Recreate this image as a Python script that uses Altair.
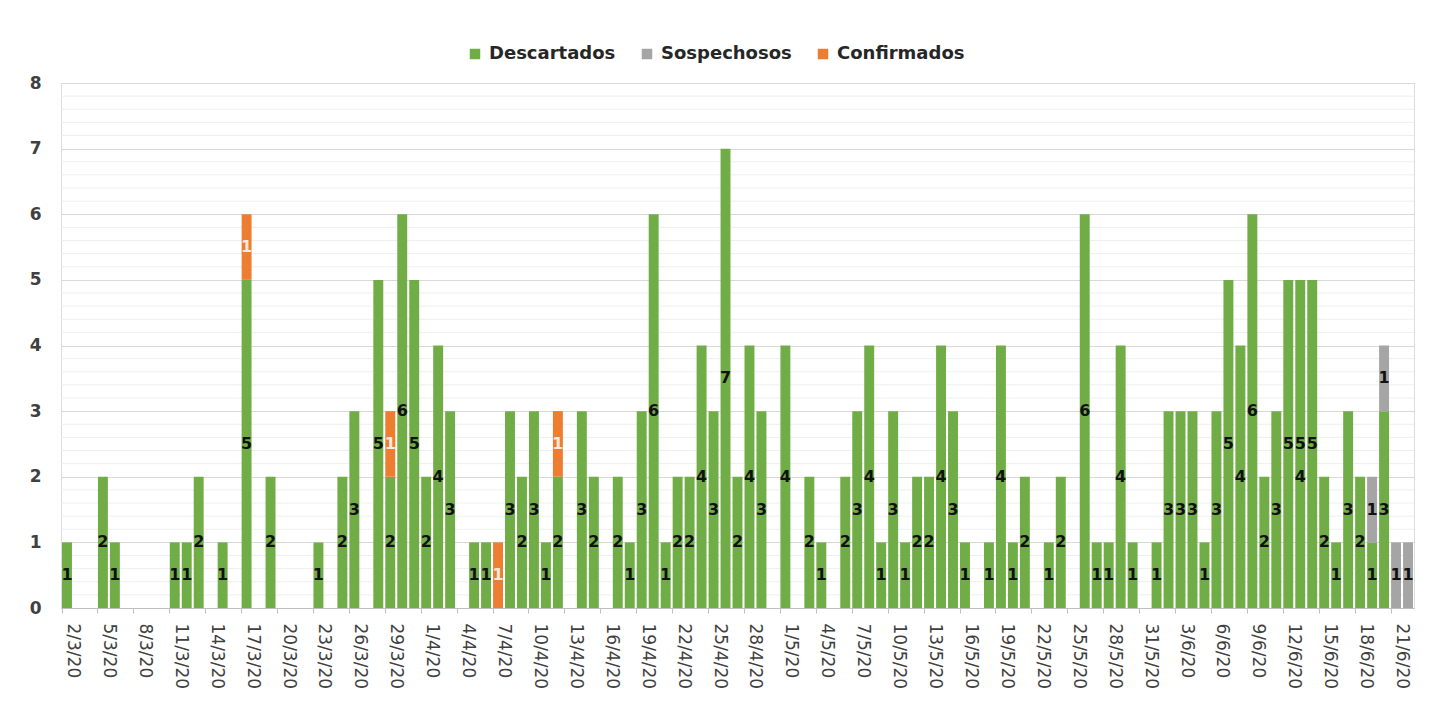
import altair as alt
import pandas as pd

# ---------------- data ----------------
inicio = "2020-03-02"
n_dias = 113
fechas = [f"{d.day}/{d.month}/20" for d in pd.date_range(inicio, periods=n_dias)]

descartados = [
    1, 0, 0, 2, 1, 0, 0, 0, 0, 1,
    1, 2, 0, 1, 0, 5, 0, 2, 0, 0,
    0, 1, 0, 2, 3, 0, 5, 2, 6, 5,
    2, 4, 3, 0, 1, 1, 0, 3, 2, 3,
    1, 2, 0, 3, 2, 0, 2, 1, 3, 6,
    1, 2, 2, 4, 3, 7, 2, 4, 3, 0,
    4, 0, 2, 1, 0, 2, 3, 4, 1, 3,
    1, 2, 2, 4, 3, 1, 0, 1, 4, 1,
    2, 0, 1, 2, 0, 6, 1, 1, 4, 1,
    0, 1, 3, 3, 3, 1, 3, 5, 4, 6,
    2, 3, 5, 5, 5, 2, 1, 3, 2, 1,
    3, 0, 0,
]
sospechosos_fechas = ["19/6/20", "20/6/20", "21/6/20", "22/6/20"]
sospechosos_valores = [1, 1, 1, 1]
confirmados_fechas = ["17/3/20", "29/3/20", "7/4/20", "12/4/20"]
confirmados_valores = [1, 1, 1, 1]

# stray data label visible in the original chart
extra_etiqueta_fechas = ["13/6/20"]
extra_etiqueta_valores = [4]

series = ["Descartados", "Sospechosos", "Confirmados"]
colores = ["#70AD47", "#A5A5A5", "#ED7D31"]
ticks_x = fechas[::3]
ticks_y_mayor = [0, 1, 2, 3, 4, 5, 6, 7, 8]
ticks_y_menor = [round(i * 0.2, 1) for i in range(41) if i % 5 != 0]

# ---------------- build table ----------------
sosp = dict(zip(sospechosos_fechas, sospechosos_valores))
conf = dict(zip(confirmados_fechas, confirmados_valores))
rows = []
for f, d in zip(fechas, descartados):
    base = 0
    for k, (s, v) in enumerate(zip(series, [d, sosp.get(f, 0), conf.get(f, 0)])):
        if v > 0:
            rows.append(dict(fecha=f, serie=s, valor=v, orden=k,
                             medio=base + v / 2, etiqueta=str(v)))
        base += v
for f, v in zip(extra_etiqueta_fechas, extra_etiqueta_valores):
    rows.append(dict(fecha=f, serie="Descartados", valor=0, orden=0,
                     medio=v / 2, etiqueta=str(v)))
df = pd.DataFrame(rows)
bars_df = df[df["valor"] > 0]
menor_df = pd.DataFrame({"v": ticks_y_menor})

FONT = "DejaVu Sans"

x_enc = alt.X(
    "fecha:N",
    sort=fechas,
    scale=alt.Scale(domain=fechas, paddingInner=0.17, paddingOuter=0.085),
    axis=alt.Axis(
        values=ticks_x, title=None, labelAngle=90, labelAlign="left",
        labelBaseline="middle", bandPosition=0, labelOffset=6,
        tickSize=5, tickColor="#bfbfbf", domainColor="#bfbfbf",
        labelFont=FONT, labelFontSize=17, labelColor="#404040",
        labelPadding=10, labelOverlap=False, labelBound=False, grid=False,
    ),
)

y_scale = alt.Scale(domain=[0, 8], nice=False)
y_axis = alt.Axis(
    values=ticks_y_mayor, title=None, format="d", gridColor="#d9d9d9",
    domain=False, ticks=False, labelFont=FONT, labelFontSize=17,
    labelFontWeight="bold", labelColor="#404040", labelPadding=20,
    labelOverlap=False,
)

minor_grid = alt.Chart(menor_df).mark_rule(color="#eeeeee", strokeWidth=1).encode(
    y=alt.Y("v:Q", scale=y_scale, axis=y_axis),
)

bars = alt.Chart(bars_df).mark_bar().encode(
    x=x_enc,
    y=alt.Y("sum(valor):Q", scale=y_scale, axis=y_axis, stack="zero"),
    color=alt.Color(
        "serie:N",
        scale=alt.Scale(domain=series, range=colores),
        legend=alt.Legend(
            title=None, orient="none", direction="horizontal",
            legendX=405, legendY=-38, symbolType="square", symbolSize=110,
            symbolStrokeWidth=0, labelFont=FONT, labelFontSize=18,
            labelFontWeight="bold", labelColor="#262626", columnPadding=22,
            symbolOffset=0, labelOffset=5,
        ),
    ),
    order=alt.Order("orden:Q", sort="ascending"),
)

labels = alt.Chart(df).mark_text(
    font=FONT, fontSize=16, fontWeight="bold", baseline="middle", align="center"
).encode(
    x=alt.X("fecha:N", sort=fechas),
    y=alt.Y("medio:Q", scale=y_scale),
    text="etiqueta:N",
    color=alt.condition(alt.datum.serie == "Confirmados",
                        alt.value("#fbe9df"), alt.value("#111111")),
)

chart = alt.layer(minor_grid, bars, labels).properties(
    width=1353, height=525,
    autosize=alt.AutoSizeParams(type="none"),
    padding={"left": 53, "top": 75, "right": 12, "bottom": 100},
).configure_view(stroke=None).configure(background="white")

chart.save("out.html", embed_options={"renderer": "svg", "actions": False})
